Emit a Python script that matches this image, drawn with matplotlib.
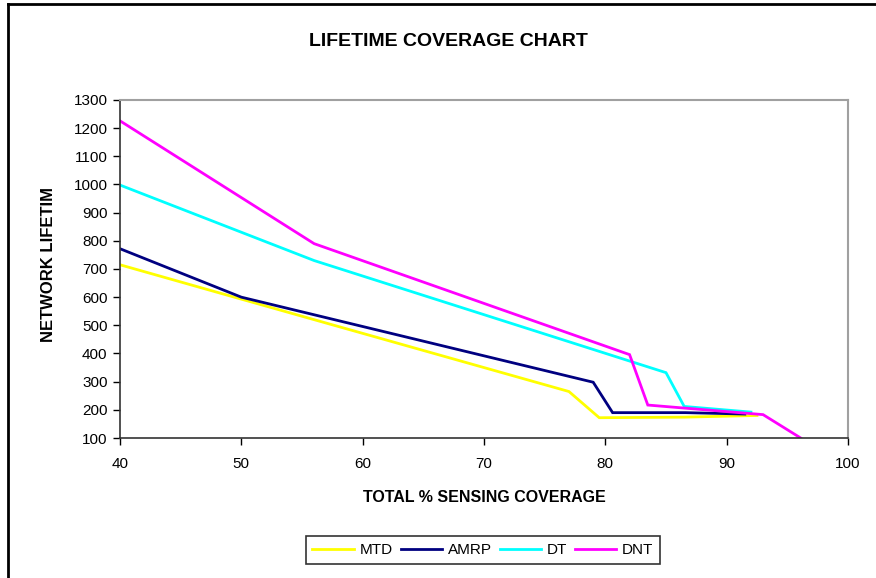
import matplotlib
matplotlib.use("Agg")
import matplotlib.pyplot as plt
from matplotlib.lines import Line2D

plt.rcParams['font.family'] = ['Liberation Sans', 'DejaVu Sans']

mtd_x = [40, 50, 77, 79.5, 86.5, 92.5]
mtd_y = [715, 593, 265, 172, 174, 180]
amrp_x = [40, 50, 79, 80.6, 86.6, 91.5]
amrp_y = [772, 600, 298, 190, 190, 185]
dt_x = [40, 56, 85, 86.5, 92]
dt_y = [998, 730, 332, 212, 192]
dnt_x = [40, 56, 82, 83.5, 93, 96.1]
dnt_y = [1226, 790, 396, 217, 183, 100]

x_ticks = [40, 50, 60, 70, 80, 90, 100]
y_ticks = list(range(100, 1301, 100))

fig = plt.figure(figsize=(8.76, 5.78), dpi=100)
ax = fig.add_axes([120/876, 1-438/578, 728/876, 338/578])

lw = 2.0
ax.plot(mtd_x, mtd_y, color='#FFFF00', lw=lw, label='MTD', solid_joinstyle='miter')
ax.plot(amrp_x, amrp_y, color='#000080', lw=lw, label='AMRP', solid_joinstyle='miter')
ax.plot(dt_x, dt_y, color='#00FFFF', lw=lw, label='DT', solid_joinstyle='miter')
ax.plot(dnt_x, dnt_y, color='#FF00FF', lw=lw, label='DNT', solid_joinstyle='miter')

ax.set_xlim(40, 100)
ax.set_ylim(100, 1300)
ax.set_xticks(x_ticks)
ax.set_yticks(y_ticks)
ax.tick_params(axis='both', direction='out', length=5, width=1, labelsize=11, colors='black')
ax.tick_params(axis='x', pad=9)
ax.tick_params(axis='y', pad=4)
for s in ['top', 'right']:
    ax.spines[s].set_color('#A0A0A0')
    ax.spines[s].set_linewidth(1.5)
for s in ['left', 'bottom']:
    ax.spines[s].set_color('#333333')
    ax.spines[s].set_linewidth(1.2)

fig.text(448/876, 1-42/578, 'LIFETIME COVERAGE CHART', ha='center', va='center',
         fontsize=14, fontweight='bold')
fig.text(484/876, 1-497/578, 'TOTAL % SENSING COVERAGE', ha='center', va='center',
         fontsize=11.5, fontweight='bold')
fig.text(49/876, 1-264/578, 'NETWORK LIFETIM', ha='center', va='center',
         rotation=90, fontsize=12, fontweight='bold')

leg = fig.legend(loc='center', bbox_to_anchor=(483/876, 1-550/578), ncol=4,
                 frameon=True, fancybox=False, edgecolor='black', fontsize=11,
                 handlelength=2.7, columnspacing=0.5, handletextpad=0.4,
                 borderpad=0.45)
leg.get_frame().set_linewidth(1.2)

# outer border (top and left edges)
fig.add_artist(Line2D([8/876, 1], [1-4/578, 1-4/578], color='black', lw=2,
                      transform=fig.transFigure))
fig.add_artist(Line2D([8/876, 8/876], [0, 1-4/578], color='black', lw=2,
                      transform=fig.transFigure))

fig.savefig('out.png', dpi=100)
